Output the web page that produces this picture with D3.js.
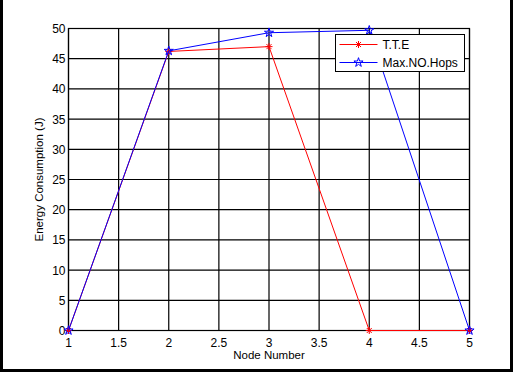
<!DOCTYPE html>
<html>
<head>
<meta charset="utf-8">
<script src="https://cdn.jsdelivr.net/npm/d3@7"></script>
<style>
  body { margin: 0; background: #fff; }
  svg { display: block; font-family: Arial, "Liberation Sans", sans-serif; }
</style>
</head>
<body>
<div id="chart"></div>
<script>
// chart data
const nodes = [1, 2, 3, 4, 5];
const tteValues = [0, 46.2, 47.0, 0, 0];
const hopsValues = [0, 46.3, 49.3, 49.7, 0];
const xTicks = [1, 1.5, 2, 2.5, 3, 3.5, 4, 4.5, 5];
const yTicks = [0, 5, 10, 15, 20, 25, 30, 35, 40, 45, 50];
const seriesNames = ['T.T.E', 'Max.NO.Hops'];

const width = 519, height = 374;
const margin = { top: 28.5, right: 49.5, bottom: 43.5, left: 68.5 };

const svg = d3.select('#chart').append('svg')
  .attr('width', width)
  .attr('height', height);

// figure frame (left, right, bottom)
svg.append('path')
  .attr('d', 'M1.5,0 V370.5 H511.5 V0')
  .attr('fill', 'none')
  .attr('stroke', '#000')
  .attr('stroke-width', 3);

const x = d3.scaleLinear().domain([1, 5]).range([margin.left, width - margin.right]);
const y = d3.scaleLinear().domain([0, 50]).range([height - margin.bottom, margin.top]);

const g = svg.append('g');

// grid
g.selectAll('.vgrid').data(xTicks).enter().append('line')
  .attr('x1', d => x(d)).attr('x2', d => x(d))
  .attr('y1', y(0)).attr('y2', y(50))
  .attr('stroke', '#000').attr('stroke-width', 1.2);
g.selectAll('.hgrid').data(yTicks).enter().append('line')
  .attr('x1', x(1)).attr('x2', x(5))
  .attr('y1', d => y(d)).attr('y2', d => y(d))
  .attr('stroke', '#000').attr('stroke-width', 1.2);

// axes box
g.append('rect')
  .attr('x', x(1)).attr('y', y(50))
  .attr('width', x(5) - x(1)).attr('height', y(0) - y(50))
  .attr('fill', 'none').attr('stroke', '#000').attr('stroke-width', 1.2);

// tick labels
g.selectAll('.xlab').data(xTicks).enter().append('text')
  .attr('x', d => x(d)).attr('y', y(0) + 16)
  .attr('text-anchor', 'middle')
  .attr('font-size', 12)
  .text(d => d);
g.selectAll('.ylab').data(yTicks).enter().append('text')
  .attr('x', x(1) - 3).attr('y', d => y(d) + 4.5)
  .attr('text-anchor', 'end')
  .attr('font-size', 12)
  .text(d => d);

// axis titles
svg.append('text')
  .attr('x', (x(1) + x(5)) / 2).attr('y', 359)
  .attr('text-anchor', 'middle')
  .attr('font-size', 11.5)
  .text('Node Number');
svg.append('text')
  .attr('transform', 'translate(43,' + ((y(0) + y(50)) / 2) + ') rotate(-90)')
  .attr('text-anchor', 'middle')
  .attr('font-size', 11.5)
  .text('Energy Consumption (J)');

const line = d3.line().x(d => x(d[0])).y(d => y(d[1]));
const star = d3.symbol().type(d3.symbolStar).size(26);
const asterisk = 'M-3.5,0H3.5M0,-3.5V3.5M-2.5,-2.5L2.5,2.5M-2.5,2.5L2.5,-2.5';

const tteData = nodes.map((n, i) => [n, tteValues[i]]);
const hopsData = nodes.map((n, i) => [n, hopsValues[i]]);

// T.T.E
g.append('path').attr('d', line(tteData))
  .attr('fill', 'none').attr('stroke', '#ff0000').attr('stroke-width', 1);
g.selectAll('.tteMark').data(tteData).enter().append('path')
  .attr('d', asterisk)
  .attr('transform', d => 'translate(' + x(d[0]) + ',' + y(d[1]) + ')')
  .attr('fill', 'none').attr('stroke', '#ff0000').attr('stroke-width', 1);

// Max.NO.Hops
g.append('path').attr('d', line(hopsData))
  .attr('fill', 'none').attr('stroke', '#0000ff').attr('stroke-width', 1);
g.selectAll('.hopsMark').data(hopsData).enter().append('path')
  .attr('d', star)
  .attr('transform', d => 'translate(' + x(d[0]) + ',' + y(d[1]) + ')')
  .attr('fill', 'none').attr('stroke', '#0000ff').attr('stroke-width', 1);

// legend
const lg = svg.append('g').attr('transform', 'translate(335.5,34.5)');
lg.append('rect')
  .attr('width', 129).attr('height', 37)
  .attr('fill', '#fff').attr('stroke', '#000').attr('stroke-width', 1);
const colors = ['#ff0000', '#0000ff'];
seriesNames.forEach((name, i) => {
  const cy = 10 + i * 18;
  lg.append('line')
    .attr('x1', 4).attr('x2', 42).attr('y1', cy).attr('y2', cy)
    .attr('stroke', colors[i]).attr('stroke-width', 1);
  lg.append('path')
    .attr('d', i === 0 ? asterisk : star)
    .attr('transform', 'translate(23,' + cy + ')')
    .attr('fill', 'none').attr('stroke', colors[i]).attr('stroke-width', 1);
  lg.append('text')
    .attr('x', 47).attr('y', cy + 4.5)
    .attr('font-size', 12)
    .text(name);
});
</script>
</body>
</html>
